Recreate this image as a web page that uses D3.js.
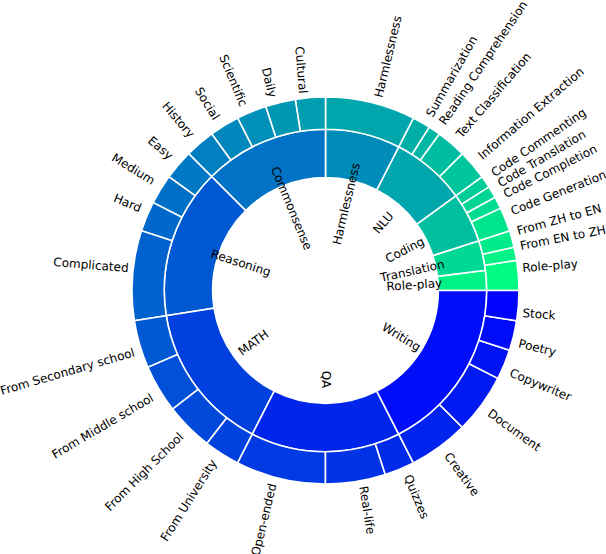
<!DOCTYPE html>
<html>
<head>
<meta charset="utf-8">
<script src="https://cdn.jsdelivr.net/npm/d3@7"></script>
<style>
  body { margin: 0; background: #fff; }
  text { font-family: "DejaVu Sans", sans-serif; font-size: 12px; fill: #000; }
</style>
</head>
<body>
<svg id="chart" width="606" height="554"></svg>
<script>
// inner ring, counterclockwise from 3 o'clock
var innerLabels = ["Role-play", "Translation", "Coding", "NLU", "Harmlessness",
  "Commonsense", "Reasoning", "MATH", "QA", "Writing"];
var innerValues = [40, 60, 100, 150, 150, 250, 300, 300, 300, 350];

// outer ring, same direction
var outerLabels = ["Role-play", "From EN to ZH", "From ZH to EN",
  "Code Generation", "Code Completion", "Code Translation", "Code Commenting",
  "Information Extraction", "Text Classification", "Reading Comprehension", "Summarization",
  "Harmlessness",
  "Cultural", "Daily", "Scientific", "Social", "History",
  "Easy", "Medium", "Hard", "Complicated",
  "From Secondary school", "From Middle school", "From High School", "From University",
  "Open-ended", "Real-life", "Quizzes",
  "Creative", "Document", "Copywriter", "Poetry", "Stock"];
var outerValues = [50, 22, 28, 40, 20, 20, 20, 50, 50, 20, 30, 150,
  50, 50, 50, 50, 50, 50, 50, 50, 150, 80, 80, 80, 60, 150, 100, 50,
  100, 100, 50, 50, 50];

var svg = d3.select("#chart");
var cx = 325.5, cy = 290.5;
var unit = 161.25;
var g = svg.append("g").attr("transform", "translate(" + cx + "," + cy + ")");

// winter colormap, blue end at the last slice
var winter = d3.interpolateRgb("rgb(0,0,255)", "rgb(0,255,128)");
function colorAt(i, n) { return winter(1 - (i + 0.5) / n); }

var pie = d3.pie().sort(null).value(function(d) { return d; })
  .startAngle(Math.PI / 2).endAngle(Math.PI / 2 - 2 * Math.PI);

var innerArc = d3.arc().innerRadius(0.7 * unit).outerRadius(1.0 * unit);
var outerArc = d3.arc().innerRadius(1.0 * unit).outerRadius(1.2 * unit);

var innerData = pie(innerValues);
var outerData = pie(outerValues);

g.selectAll("path.inner").data(innerData).enter().append("path")
  .attr("class", "inner")
  .attr("d", innerArc)
  .attr("fill", function(d, i) { return colorAt(i, innerValues.length); })
  .attr("stroke", "#fff").attr("stroke-width", 1.6);

g.selectAll("path.outer").data(outerData).enter().append("path")
  .attr("class", "outer")
  .attr("d", outerArc)
  .attr("fill", function(d, i) { return colorAt(i, outerValues.length); })
  .attr("stroke", "#fff").attr("stroke-width", 1.6);

// mid angle in degrees, counterclockwise from +x
function midDeg(d) {
  var a = (d.startAngle + d.endAngle) / 2;
  return (90 - a * 180 / Math.PI + 720) % 360;
}

// inner labels: centred on the radius, turned radially
g.selectAll("text.inner").data(innerData).enter().append("text")
  .attr("class", "inner")
  .attr("text-anchor", "middle")
  .attr("dominant-baseline", "central")
  .attr("transform", function(d) {
    var t = midDeg(d), r = t * Math.PI / 180, c = Math.cos(r);
    var rot = t + (c > -1e-6 ? 0 : 180);
    var x = 89 * c, y = -89 * Math.sin(r);
    return "translate(" + x + "," + y + ") rotate(" + (-rot) + ")";
  })
  .text(function(d, i) { return innerLabels[i]; });

// outer labels: rotated box corner sits on the label point
var fs = 12, th = fs * 1.17, lr = 197;
g.selectAll("text.outer").data(outerData).enter().append("text")
  .attr("class", "outer")
  .attr("text-anchor", "middle")
  .attr("dominant-baseline", "central")
  .text(function(d, i) { return outerLabels[i]; })
  .attr("transform", function(d) {
    var t = midDeg(d), r = t * Math.PI / 180;
    var c = Math.cos(r), s = Math.sin(r);
    var right = c > 0, up = s > 0;
    var rot = t + (right ? 0 : 180), rr = rot * Math.PI / 180;
    var w = this.getComputedTextLength();
    var ex = (w * Math.abs(Math.cos(rr)) + th * Math.abs(Math.sin(rr))) / 2;
    var ey = (w * Math.abs(Math.sin(rr)) + th * Math.abs(Math.cos(rr))) / 2;
    var x = lr * c + (right ? ex : -ex);
    var y = -lr * s + (up ? -ey : ey);
    return "translate(" + x + "," + y + ") rotate(" + (-rot) + ")";
  });
</script>
</body>
</html>
